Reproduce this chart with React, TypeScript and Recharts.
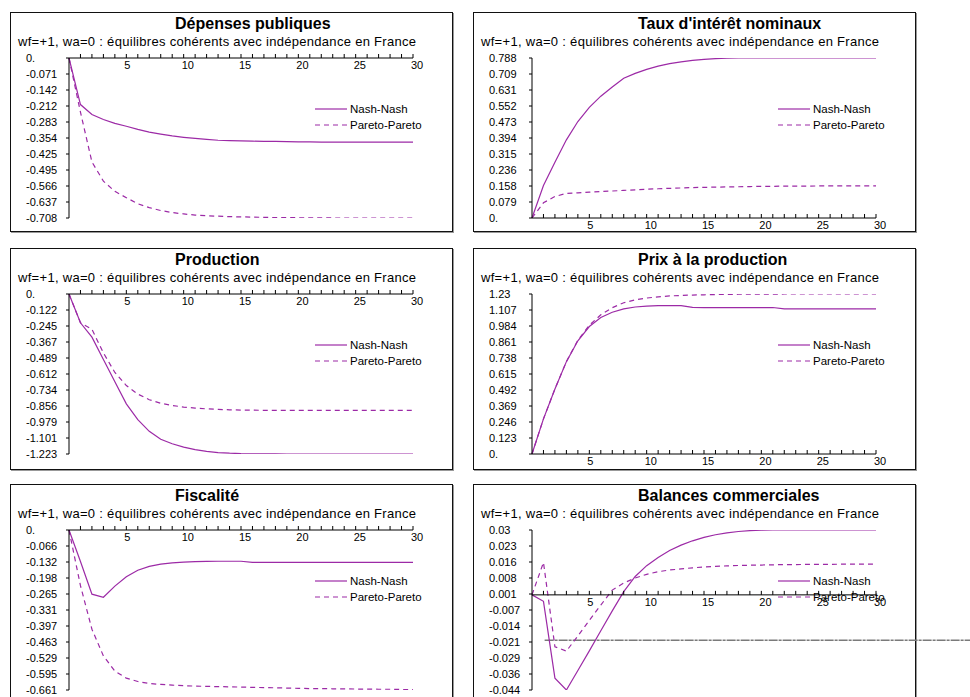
import { LineChart, Line, XAxis, YAxis, ReferenceLine, ReferenceDot, Legend } from 'recharts';

const FONT = '"Liberation Sans", Arial, Helvetica, sans-serif';
const PURPLE = '#9c2aa6';
const SUBTITLE = 'wf=+1, wa=0 : équilibres cohérents avec indépendance en France';

// periods 0..30
const periods = [0, 1, 2, 3, 4, 5, 6, 7, 8, 9, 10, 11, 12, 13, 14, 15, 16, 17, 18, 19, 20, 21, 22, 23, 24, 25, 26, 27, 28, 29, 30];

const depNash = [0, -0.206, -0.25, -0.272, -0.289, -0.302, -0.316, -0.328, -0.337, -0.345, -0.351, -0.356, -0.36, -0.364, -0.366, -0.367, -0.368, -0.369, -0.369, -0.37, -0.371, -0.371, -0.372, -0.372, -0.372, -0.372, -0.372, -0.372, -0.372, -0.372, -0.372];
const depPareto = [0, -0.24, -0.46, -0.545, -0.59, -0.618, -0.645, -0.662, -0.675, -0.684, -0.69, -0.695, -0.698, -0.7, -0.702, -0.703, -0.704, -0.705, -0.706, -0.706, -0.707, -0.707, -0.707, -0.708, -0.708, -0.708, -0.708, -0.708, -0.708, -0.708, -0.708];
const depLabels = ['0.', '-0.071', '-0.142', '-0.212', '-0.283', '-0.354', '-0.425', '-0.495', '-0.566', '-0.637', '-0.708'];

const tauxNash = [0, 0.16, 0.275, 0.385, 0.475, 0.545, 0.6, 0.645, 0.688, 0.712, 0.732, 0.748, 0.76, 0.769, 0.776, 0.781, 0.785, 0.787, 0.788, 0.788, 0.788, 0.788, 0.788, 0.788, 0.788, 0.788, 0.788, 0.788, 0.788, 0.788, 0.788];
const tauxPareto = [0, 0.075, 0.106, 0.121, 0.124, 0.127, 0.13, 0.133, 0.136, 0.139, 0.142, 0.144, 0.146, 0.148, 0.15, 0.151, 0.152, 0.153, 0.154, 0.155, 0.156, 0.156, 0.157, 0.157, 0.157, 0.158, 0.158, 0.158, 0.158, 0.158, 0.158];
const tauxLabels = ['0.788', '0.709', '0.631', '0.552', '0.473', '0.394', '0.315', '0.236', '0.158', '0.079', '0.'];

const prodNash = [0, -0.22, -0.33, -0.5, -0.67, -0.84, -0.96, -1.05, -1.11, -1.145, -1.17, -1.19, -1.203, -1.212, -1.217, -1.22, -1.221, -1.222, -1.222, -1.223, -1.223, -1.223, -1.223, -1.223, -1.223, -1.223, -1.223, -1.223, -1.223, -1.223, -1.223];
const prodPareto = [0, -0.22, -0.27, -0.45, -0.6, -0.7, -0.765, -0.808, -0.835, -0.852, -0.864, -0.872, -0.878, -0.882, -0.885, -0.887, -0.888, -0.889, -0.89, -0.89, -0.89, -0.89, -0.89, -0.89, -0.89, -0.89, -0.89, -0.89, -0.89, -0.89, -0.89];
const prodLabels = ['0.', '-0.122', '-0.245', '-0.367', '-0.489', '-0.612', '-0.734', '-0.856', '-0.979', '-1.101', '-1.223'];

const prixNash = [0, 0.27, 0.5, 0.71, 0.87, 0.98, 1.05, 1.09, 1.115, 1.13, 1.137, 1.14, 1.141, 1.141, 1.127, 1.126, 1.126, 1.126, 1.126, 1.126, 1.126, 1.126, 1.116, 1.116, 1.116, 1.116, 1.116, 1.116, 1.116, 1.116, 1.116];
const prixPareto = [0, 0.27, 0.5, 0.71, 0.875, 0.99, 1.07, 1.125, 1.163, 1.185, 1.199, 1.208, 1.215, 1.219, 1.222, 1.224, 1.226, 1.227, 1.228, 1.228, 1.229, 1.229, 1.23, 1.23, 1.23, 1.23, 1.23, 1.23, 1.23, 1.23, 1.23];
const prixLabels = ['1.23', '1.107', '0.984', '0.861', '0.738', '0.615', '0.492', '0.369', '0.246', '0.123', '0.'];

const fiscNash = [0, -0.13, -0.265, -0.278, -0.232, -0.193, -0.166, -0.15, -0.141, -0.136, -0.133, -0.131, -0.13, -0.129, -0.129, -0.129, -0.134, -0.134, -0.134, -0.134, -0.134, -0.134, -0.134, -0.134, -0.134, -0.134, -0.134, -0.134, -0.134, -0.134, -0.134];
const fiscPareto = [0, -0.23, -0.41, -0.52, -0.583, -0.612, -0.626, -0.634, -0.638, -0.641, -0.643, -0.645, -0.646, -0.647, -0.648, -0.649, -0.65, -0.651, -0.652, -0.653, -0.654, -0.655, -0.655, -0.656, -0.656, -0.657, -0.657, -0.658, -0.658, -0.659, -0.659];
const fiscLabels = ['0.', '-0.066', '-0.132', '-0.198', '-0.265', '-0.331', '-0.397', '-0.463', '-0.529', '-0.595', '-0.661'];

const balNash = [0, -0.003, -0.0385, -0.044, -0.035, -0.0259, -0.0166, -0.0074, 0.0015, 0.0085, 0.0135, 0.0173, 0.0205, 0.023, 0.025, 0.0266, 0.0278, 0.0287, 0.0293, 0.0297, 0.0299, 0.03, 0.03, 0.03, 0.03, 0.03, 0.03, 0.03, 0.03, 0.03, 0.03];
const balPareto = [0, 0.015, -0.024, -0.026, -0.019, -0.0118, -0.0047, 0.0022, 0.0055, 0.0078, 0.0095, 0.0107, 0.0115, 0.012, 0.0125, 0.0129, 0.0132, 0.0134, 0.0136, 0.0137, 0.0138, 0.0139, 0.014, 0.014, 0.0141, 0.0141, 0.0141, 0.0142, 0.0142, 0.0142, 0.0142];
const balLabels = ['0.03', '0.023', '0.016', '0.008', '0.001', '-0.007', '-0.014', '-0.021', '-0.029', '-0.036', '-0.044'];

// stray dotted line seen across the trade balance panel (value, x from, x to)
const balStray = { y: -0.021, x1: 1.1, x2: 38.2 };

const PLOT_W = 344;
const PLOT_H = 160;

function YTick(props: any) {
  const { x, y, payload, ticks, labels } = props;
  const idx = ticks.findIndex((v: number) => Math.abs(v - payload.value) < 1e-9);
  return (
    <text x={x - 38} y={y} dy="0.35em" fontSize={11} fontFamily={FONT} fill="#000" textAnchor="start">
      {labels[idx]}
    </text>
  );
}

function XTick({ cx, cy, value }: { cx: number; cy: number; value: number }) {
  return (
    <g>
      <line x1={cx} x2={cx} y1={cy} y2={cy - 4} stroke="#000" strokeWidth={1} />
      {value % 5 === 0 && (
        <text x={cx - 2} y={cy + 11} fontSize={11} fontFamily={FONT} fill="#000" textAnchor="start">
          {value}
        </text>
      )}
    </g>
  );
}

function LegendBox(props: any) {
  const items = props.payload || [];
  return (
    <div style={{ fontFamily: FONT, fontSize: 11.5, color: '#000' }}>
      {items.map((it: any) => (
        <div key={it.value} style={{ display: 'flex', alignItems: 'center', height: 16 }}>
          <svg width={35} height={6} style={{ display: 'block' }}>
            <line x1={0} x2={32} y1={3} y2={3} stroke={PURPLE} strokeWidth={1.2}
              strokeDasharray={it.payload?.strokeDasharray} />
          </svg>
          <span style={{ whiteSpace: 'nowrap' }}>{it.value}</span>
        </div>
      ))}
    </div>
  );
}

type PanelProps = {
  left: number;
  top: number;
  height: number;
  title: string;
  labels: string[];
  min: number;
  max: number;
  nash: number[];
  pareto: number[];
  chartW?: number;
  stray?: { y: number; x1: number; x2: number };
};

function Panel({ left, top, height, title, labels, min, max, nash, pareto, chartW = 443, stray }: PanelProps) {
  const data = periods.map((t, i) => ({ t, nash: nash[i], pareto: pareto[i] }));
  const step = (max - min) / (labels.length - 1);
  const ticks = labels.map((_, i) => max - i * step);
  const plotTop = top + 46;
  const chartTop = plotTop - 10;
  const marginLeft = 9;
  const yW = 50;
  return (
    <>
      <div style={{
        position: 'absolute', left, top, width: 443, height, boxSizing: 'border-box',
        border: '1px solid #111', boxShadow: '1px 1px 0 #999', background: '#fff',
      }} />
      <div style={{
        position: 'absolute', left: left + 165, top: top + 3, fontFamily: FONT, fontWeight: 'bold',
        fontSize: 16, lineHeight: '17px', whiteSpace: 'nowrap', color: '#000',
      }}>{title}</div>
      <div style={{
        position: 'absolute', left: left + 8, top: top + 23, fontFamily: FONT, fontSize: 13,
        letterSpacing: 0.3, lineHeight: '14px', whiteSpace: 'nowrap', color: '#000',
      }}>{SUBTITLE}</div>
      <div style={{ position: 'absolute', left, top: chartTop }}>
        <LineChart width={chartW} height={PLOT_H + 30} data={data}
          margin={{ top: 10, right: chartW - marginLeft - yW - PLOT_W, bottom: 20, left: marginLeft }}>
          <XAxis dataKey="t" type="number" domain={[0, 30]} hide />
          <YAxis type="number" domain={[min, max]} ticks={ticks} interval={0} allowDataOverflow
            width={yW} tickSize={3} tickMargin={2} axisLine={{ stroke: '#000' }} tickLine={{ stroke: '#000' }}
            tick={(p: any) => <YTick {...p} ticks={ticks} labels={labels} />} />
          {stray && (
            <ReferenceLine segment={[{ x: stray.x1, y: stray.y }, { x: stray.x2, y: stray.y }]}
              ifOverflow="visible" stroke="#7a7a7a" strokeWidth={1.5} strokeDasharray="9 1 3 1" />
          )}
          <Line dataKey="nash" name="Nash-Nash" type="linear" stroke={PURPLE} strokeWidth={1.2}
            dot={false} activeDot={false} isAnimationActive={false} />
          <Line dataKey="pareto" name="Pareto-Pareto" type="linear" stroke={PURPLE} strokeWidth={1.2}
            strokeDasharray="5 4" dot={false} activeDot={false} isAnimationActive={false} />
          <ReferenceLine y={0} stroke="#000" strokeWidth={1} ifOverflow="visible" />
          {periods.slice(1).map((p) => (
            <ReferenceDot key={p} x={p} y={0} ifOverflow="visible"
              shape={(s: any) => <XTick cx={s.cx} cy={s.cy} value={p} />} />
          ))}
          <Legend layout="horizontal" verticalAlign="middle" align="center"
            wrapperStyle={{ left: marginLeft + yW + 246, top: 10 + 51 - 8, width: 130 }}
            content={(p: any) => <LegendBox {...p} />} />
        </LineChart>
      </div>
    </>
  );
}

export default function App() {
  return (
    <div style={{ position: 'absolute', left: 0, top: 0, width: 970, height: 697, overflow: 'hidden', background: '#fff' }}>
      <Panel left={10} top={12} height={220} title="Dépenses publiques" labels={depLabels}
        min={-0.708} max={0} nash={depNash} pareto={depPareto} />
      <Panel left={473} top={12} height={220} title="Taux d'intérêt nominaux" labels={tauxLabels}
        min={0} max={0.788} nash={tauxNash} pareto={tauxPareto} />
      <Panel left={10} top={248} height={222} title="Production" labels={prodLabels}
        min={-1.223} max={0} nash={prodNash} pareto={prodPareto} />
      <Panel left={473} top={248} height={222} title="Prix à la production" labels={prixLabels}
        min={0} max={1.23} nash={prixNash} pareto={prixPareto} />
      <Panel left={10} top={484} height={240} title="Fiscalité" labels={fiscLabels}
        min={-0.661} max={0} nash={fiscNash} pareto={fiscPareto} />
      <Panel left={473} top={484} height={240} title="Balances commerciales" labels={balLabels}
        min={-0.044} max={0.03} nash={balNash} pareto={balPareto} chartW={497} stray={balStray} />
    </div>
  );
}
